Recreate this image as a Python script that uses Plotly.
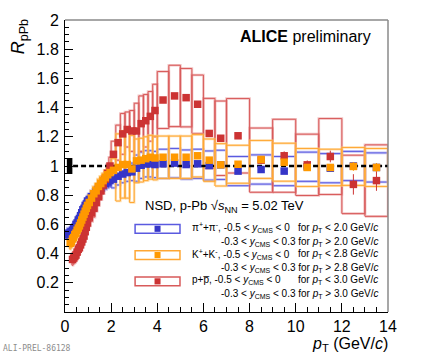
import plotly.graph_objects as go

# ---------------------------------------------------------------------------
# Data
# ---------------------------------------------------------------------------

# common pT bin edges (GeV/c)
pt_edges = [
    0.10, 0.12, 0.14, 0.16, 0.18, 0.20,
    0.25, 0.30, 0.35, 0.40, 0.45, 0.50, 0.55, 0.60, 0.65, 0.70, 0.75, 0.80,
    0.85, 0.90, 0.95, 1.00,
    1.10, 1.20, 1.30, 1.40, 1.50, 1.60, 1.70, 1.80, 1.90, 2.00,
    2.20, 2.40, 2.60, 2.80, 3.00, 3.20, 3.40, 3.60, 3.80, 4.00,
    4.50, 5.00, 5.50, 6.00, 6.50, 7.00,
    8.0, 9.0, 10.0, 11.0, 12.0, 13.0, 14.0,
]

# pions start at the first bin, kaons at 0.2 GeV/c, protons at 0.3 GeV/c
pion_first_bin = 0
kaon_first_bin = 5
proton_first_bin = 7

pion_rppb = [
    0.54, 0.53, 0.53, 0.53, 0.53,
    0.54, 0.55, 0.56, 0.57, 0.58, 0.60, 0.61, 0.63, 0.64, 0.66, 0.68, 0.70,
    0.71, 0.73, 0.74, 0.76,
    0.77, 0.79, 0.80, 0.82, 0.84, 0.85, 0.87, 0.88, 0.89, 0.90,
    0.91, 0.93, 0.945, 0.955, 0.96, 0.985, 1.005, 1.015, 1.015, 1.01,
    1.015, 1.02, 1.01, 1.015, 1.003, 1.008,
    0.965, 0.976, 0.965, 0.995, 0.985, 1.0, 0.99,
]
pion_stat = [
    0.005, 0.005, 0.005, 0.005, 0.005,
    0.005, 0.005, 0.005, 0.005, 0.005, 0.005, 0.005, 0.005, 0.005, 0.005,
    0.005, 0.005, 0.005, 0.005, 0.005, 0.005,
    0.006, 0.006, 0.006, 0.006, 0.006, 0.006, 0.006, 0.006, 0.006, 0.006,
    0.008, 0.008, 0.008, 0.008, 0.008, 0.008, 0.008, 0.008, 0.008, 0.008,
    0.01, 0.01, 0.01, 0.01, 0.012, 0.012,
    0.012, 0.015, 0.015, 0.02, 0.02, 0.025, 0.03,
]
pion_sys = [
    0.035, 0.035, 0.035, 0.035, 0.035,
    0.035, 0.035, 0.035, 0.035, 0.035, 0.035, 0.035, 0.035, 0.035, 0.035,
    0.035, 0.035, 0.035, 0.035, 0.035, 0.035,
    0.04, 0.04, 0.04, 0.04, 0.04, 0.04, 0.04, 0.04, 0.04, 0.04,
    0.06, 0.06, 0.06, 0.06, 0.06, 0.09, 0.09, 0.09, 0.09, 0.09,
    0.10, 0.10, 0.10, 0.10, 0.10, 0.10,
    0.10, 0.10, 0.10, 0.10, 0.10, 0.10, 0.10,
]

kaon_rppb = [
    0.47, 0.48, 0.50, 0.51, 0.53, 0.54, 0.56, 0.575, 0.59, 0.61, 0.63, 0.65,
    0.67, 0.69, 0.71, 0.73,
    0.75, 0.78, 0.81, 0.83, 0.86, 0.88, 0.90, 0.92, 0.94, 0.955,
    0.97, 0.99, 1.01, 1.01, 0.98, 1.035, 1.04, 1.05, 1.06, 1.055,
    1.06, 1.06, 1.06, 1.07, 1.04, 1.008,
    1.012, 1.045, 1.026, 0.99, 0.99, 0.997, 0.99,
]
kaon_stat = [
    0.005, 0.005, 0.005, 0.005, 0.005, 0.005, 0.005, 0.005, 0.005, 0.005,
    0.005, 0.005, 0.005, 0.005, 0.005, 0.005,
    0.006, 0.006, 0.006, 0.006, 0.006, 0.006, 0.006, 0.006, 0.006, 0.006,
    0.008, 0.008, 0.008, 0.008, 0.008, 0.008, 0.008, 0.008, 0.008, 0.008,
    0.01, 0.01, 0.01, 0.01, 0.012, 0.012,
    0.012, 0.015, 0.015, 0.02, 0.02, 0.03, 0.03,
]
kaon_sys = [
    0.04, 0.04, 0.04, 0.04, 0.04, 0.04, 0.04, 0.04, 0.04, 0.04,
    0.04, 0.04, 0.04, 0.04, 0.04, 0.04,
    0.05, 0.05, 0.05, 0.05, 0.05, 0.05, 0.05, 0.05, 0.05, 0.05,
    0.08, 0.23, 0.23, 0.23, 0.23, 0.15, 0.15, 0.15, 0.15, 0.15,
    0.145, 0.145, 0.145, 0.145, 0.145, 0.145,
    0.13, 0.13, 0.13, 0.13, 0.125, 0.13, 0.13,
]

proton_rppb = [
    0.36, 0.37, 0.38, 0.39, 0.41, 0.43, 0.44, 0.46, 0.48, 0.50, 0.52, 0.55,
    0.58, 0.61,
    0.65, 0.68, 0.71, 0.75, 0.79, 0.83, 0.87, 0.91, 0.95, 1.0,
    1.08, 1.16, 1.22, 1.25, 1.24, 1.24, 1.29, 1.31, 1.34, 1.38,
    1.452, 1.48, 1.468, 1.423, 1.223, 1.19,
    1.207, 1.04, 1.07, 1.008, 1.065, 0.874, 0.9,
]
proton_stat = [
    0.005, 0.005, 0.005, 0.005, 0.005, 0.005, 0.005, 0.005, 0.005, 0.005,
    0.005, 0.005, 0.005, 0.005,
    0.006, 0.006, 0.006, 0.006, 0.006, 0.006, 0.006, 0.006, 0.006, 0.006,
    0.008, 0.008, 0.008, 0.008, 0.008, 0.01, 0.01, 0.01, 0.01, 0.01,
    0.012, 0.012, 0.012, 0.015, 0.015, 0.015,
    0.02, 0.025, 0.03, 0.03, 0.04, 0.07, 0.07,
]
proton_sys = [
    0.04, 0.04, 0.04, 0.04, 0.04, 0.04, 0.04, 0.04, 0.04, 0.04,
    0.04, 0.04, 0.04, 0.04,
    0.06, 0.06, 0.06, 0.06, 0.06, 0.06, 0.06, 0.06, 0.06, 0.06,
    0.09, 0.12, 0.14, 0.12, 0.14, 0.19, 0.19, 0.18, 0.17, 0.18,
    0.195, 0.21, 0.20, 0.20, 0.24, 0.255,
    0.255, 0.22, 0.25, 0.21, 0.26, 0.20, 0.245,
]

# normalisation uncertainty drawn as the black box at unity
norm_unc = 0.055

y_tick_vals = [0.2, 0.4, 0.6, 0.8, 1.0, 1.2, 1.4, 1.6, 1.8, 2.0]
y_tick_text = ["0.2", "0.4", "0.6", "0.8", "1", "1.2", "1.4", "1.6", "1.8", "2"]
x_tick_vals = [0, 2, 4, 6, 8, 10, 12, 14]

FONT = "Liberation Sans, Arial, Helvetica, sans-serif"

species = [
    # name, first bin, values, stat, sys, marker colour, box colour, light box colour
    ("pion", pion_first_bin, pion_rppb, pion_stat, pion_sys,
     "#3535c8", "#5a5ae0", "rgba(140,140,235,0.5)"),
    ("proton", proton_first_bin, proton_rppb, proton_stat, proton_sys,
     "#cc3333", "#d85a5a", "rgba(230,140,140,0.5)"),
    ("kaon", kaon_first_bin, kaon_rppb, kaon_stat, kaon_sys,
     "#ff9900", "#ffa733", "rgba(255,200,120,0.55)"),
]


def bin_centres(first, n):
    return [(pt_edges[first + i] + pt_edges[first + i + 1]) / 2 for i in range(n)]


def box_path(first, values, sys):
    """Outline of one systematic box per bin, as a single broken line."""
    xs, ys = [], []
    for i, (v, s) in enumerate(zip(values, sys)):
        x0, x1 = pt_edges[first + i], pt_edges[first + i + 1]
        xs += [x0, x1, x1, x0, x0, None]
        ys += [v - s, v - s, v + s, v + s, v - s, None]
    return xs, ys


fig = go.Figure()

# systematic boxes (light halo + dark outline), below everything else
for name, first, vals, stat, sys, mcol, bcol, lcol in species:
    bx, by = box_path(first, vals, sys)
    fig.add_trace(go.Scatter(x=bx, y=by, mode="lines",
                             line=dict(color=lcol, width=2.6),
                             hoverinfo="skip", showlegend=False))
    fig.add_trace(go.Scatter(x=bx, y=by, mode="lines",
                             line=dict(color=bcol, width=1),
                             hoverinfo="skip", showlegend=False))

# unity reference line
fig.add_trace(go.Scatter(x=[0.35, 14], y=[1, 1], mode="lines",
                         line=dict(color="black", width=2.5, dash="5px,3px"),
                         hoverinfo="skip", showlegend=False))

# data points with statistical error bars
for name, first, vals, stat, sys, mcol, bcol, lcol in species:
    fig.add_trace(go.Scatter(
        x=bin_centres(first, len(vals)), y=vals, mode="markers",
        marker=dict(symbol="square", size=7.5, color=mcol),
        error_y=dict(type="data", array=stat, color=mcol, thickness=1, width=0),
        name=name, showlegend=False,
    ))

shapes = [
    # normalisation uncertainty
    dict(type="rect", xref="x", yref="y", x0=0.08, x1=0.32,
         y0=1 - norm_unc, y1=1 + norm_unc,
         fillcolor="black", line=dict(width=0)),
    # grey frame on top/right
    dict(type="line", xref="paper", yref="paper", x0=0, x1=1, y0=1, y1=1,
         line=dict(color="#8a8a8a", width=1.5)),
    dict(type="line", xref="paper", yref="paper", x0=1, x1=1, y0=0, y1=1,
         line=dict(color="#8a8a8a", width=1.5)),
]

# hand-drawn legend (ROOT style box with a marker inside)
legend_rows = [
    (0.285, "#3535c8", "#5a5ae0",
     "π<sup>+</sup>+π<sup>-</sup>, -0.5 < <i>y</i><sub>CMS</sub> < 0",
     "for <i>p</i><sub>T</sub> < 2.0 GeV/<i>c</i>",
     "-0.3 < <i>y</i><sub>CMS</sub> < 0.3 for <i>p</i><sub>T</sub> > 2.0 GeV/<i>c</i>"),
    (0.195, "#ff9900", "#ffa733",
     "K<sup>+</sup>+K<sup>-</sup>, -0.5 < <i>y</i><sub>CMS</sub> < 0",
     "for <i>p</i><sub>T</sub> < 2.8 GeV/<i>c</i>",
     "-0.3 < <i>y</i><sub>CMS</sub> < 0.3 for <i>p</i><sub>T</sub> > 2.8 GeV/<i>c</i>"),
    (0.105, "#cc3333", "#d85a5a",
     "p+p\u0305, -0.5 < <i>y</i><sub>CMS</sub> < 0",
     "for <i>p</i><sub>T</sub> < 3.0 GeV/<i>c</i>",
     "-0.3 < <i>y</i><sub>CMS</sub> < 0.3 for <i>p</i><sub>T</sub> > 3.0 GeV/<i>c</i>"),
]

annotations = []
for yc, mcol, bcol, left, right, second in legend_rows:
    shapes.append(dict(type="rect", xref="paper", yref="paper",
                       x0=0.217, x1=0.356, y0=yc - 0.015, y1=yc + 0.015,
                       line=dict(color=bcol, width=1.5), fillcolor="white"))
    shapes.append(dict(type="rect", xref="paper", yref="paper",
                       x0=0.2865 - 0.0093, x1=0.2865 + 0.0093,
                       y0=yc - 0.0105, y1=yc + 0.0105,
                       line=dict(width=0), fillcolor=mcol))
    annotations.append(dict(xref="paper", yref="paper", x=0.387, y=yc + 0.003,
                            xanchor="left", yanchor="middle", text=left,
                            showarrow=False, font=dict(size=10, family=FONT)))
    annotations.append(dict(xref="paper", yref="paper", x=0.975, y=yc + 0.003,
                            xanchor="right", yanchor="middle", text=right,
                            showarrow=False, font=dict(size=10, family=FONT)))
    annotations.append(dict(xref="paper", yref="paper", x=0.975, y=yc - 0.044,
                            xanchor="right", yanchor="middle", text=second,
                            showarrow=False, font=dict(size=10, family=FONT)))

annotations += [
    dict(xref="paper", yref="paper", x=0.954, y=0.942, xanchor="right",
         yanchor="middle", showarrow=False,
         text="<b>ALICE</b> preliminary", font=dict(size=16, family=FONT)),
    dict(xref="paper", yref="paper", x=0.241, y=0.36, xanchor="left",
         yanchor="middle", showarrow=False,
         text="NSD, p-Pb √<i>s</i><sub>NN</sub> = 5.02 TeV",
         font=dict(size=13, family=FONT)),
    # y-axis title
    dict(xref="paper", yref="paper", x=-0.14, y=1.01, xanchor="center",
         yanchor="top", textangle=-90, showarrow=False,
         text="<i>R</i><sub>pPb</sub>", font=dict(size=18, family=FONT)),
    # x-axis title
    dict(xref="paper", yref="paper", x=1.005, y=-0.112, xanchor="right",
         yanchor="middle", showarrow=False,
         text="<i>p</i><sub>T</sub> (GeV/<i>c</i>)", font=dict(size=16, family=FONT)),
    dict(xref="paper", yref="paper", x=-0.197, y=-0.126, xanchor="left",
         yanchor="middle", showarrow=False, text="ALI-PREL-86128",
         font=dict(size=8, family="DejaVu Sans Mono, monospace", color="#8c8c8c")),
]

fig.update_layout(
    width=432, height=355,
    margin=dict(l=65, r=44, t=18, b=43),
    paper_bgcolor="white", plot_bgcolor="white",
    font=dict(family=FONT, color="black"),
    showlegend=False,
    shapes=shapes,
    annotations=annotations,
    xaxis=dict(
        range=[0, 14], showgrid=False, zeroline=False,
        showline=True, linecolor="black", linewidth=1,
        tickmode="array", tickvals=x_tick_vals,
        ticks="inside", ticklen=9, tickcolor="black",
        tickfont=dict(size=16, family=FONT),
        minor=dict(dtick=0.5, tick0=0, ticks="inside", ticklen=5, tickcolor="black"),
    ),
    yaxis=dict(
        range=[0, 2], showgrid=False, zeroline=False,
        showline=True, linecolor="black", linewidth=1,
        tickmode="array", tickvals=y_tick_vals, ticktext=y_tick_text,
        ticks="inside", ticklen=8, tickcolor="black",
        tickfont=dict(size=16, family=FONT),
        ticklabelstandoff=2,
        minor=dict(dtick=0.05, tick0=0, ticks="inside", ticklen=4, tickcolor="black"),
    ),
)

# drop the browser's default 8px body margin so the figure sits at the page corner
fig.write_html("out.html", config={"displayModeBar": False},
               post_script="document.body.style.margin='0';")
